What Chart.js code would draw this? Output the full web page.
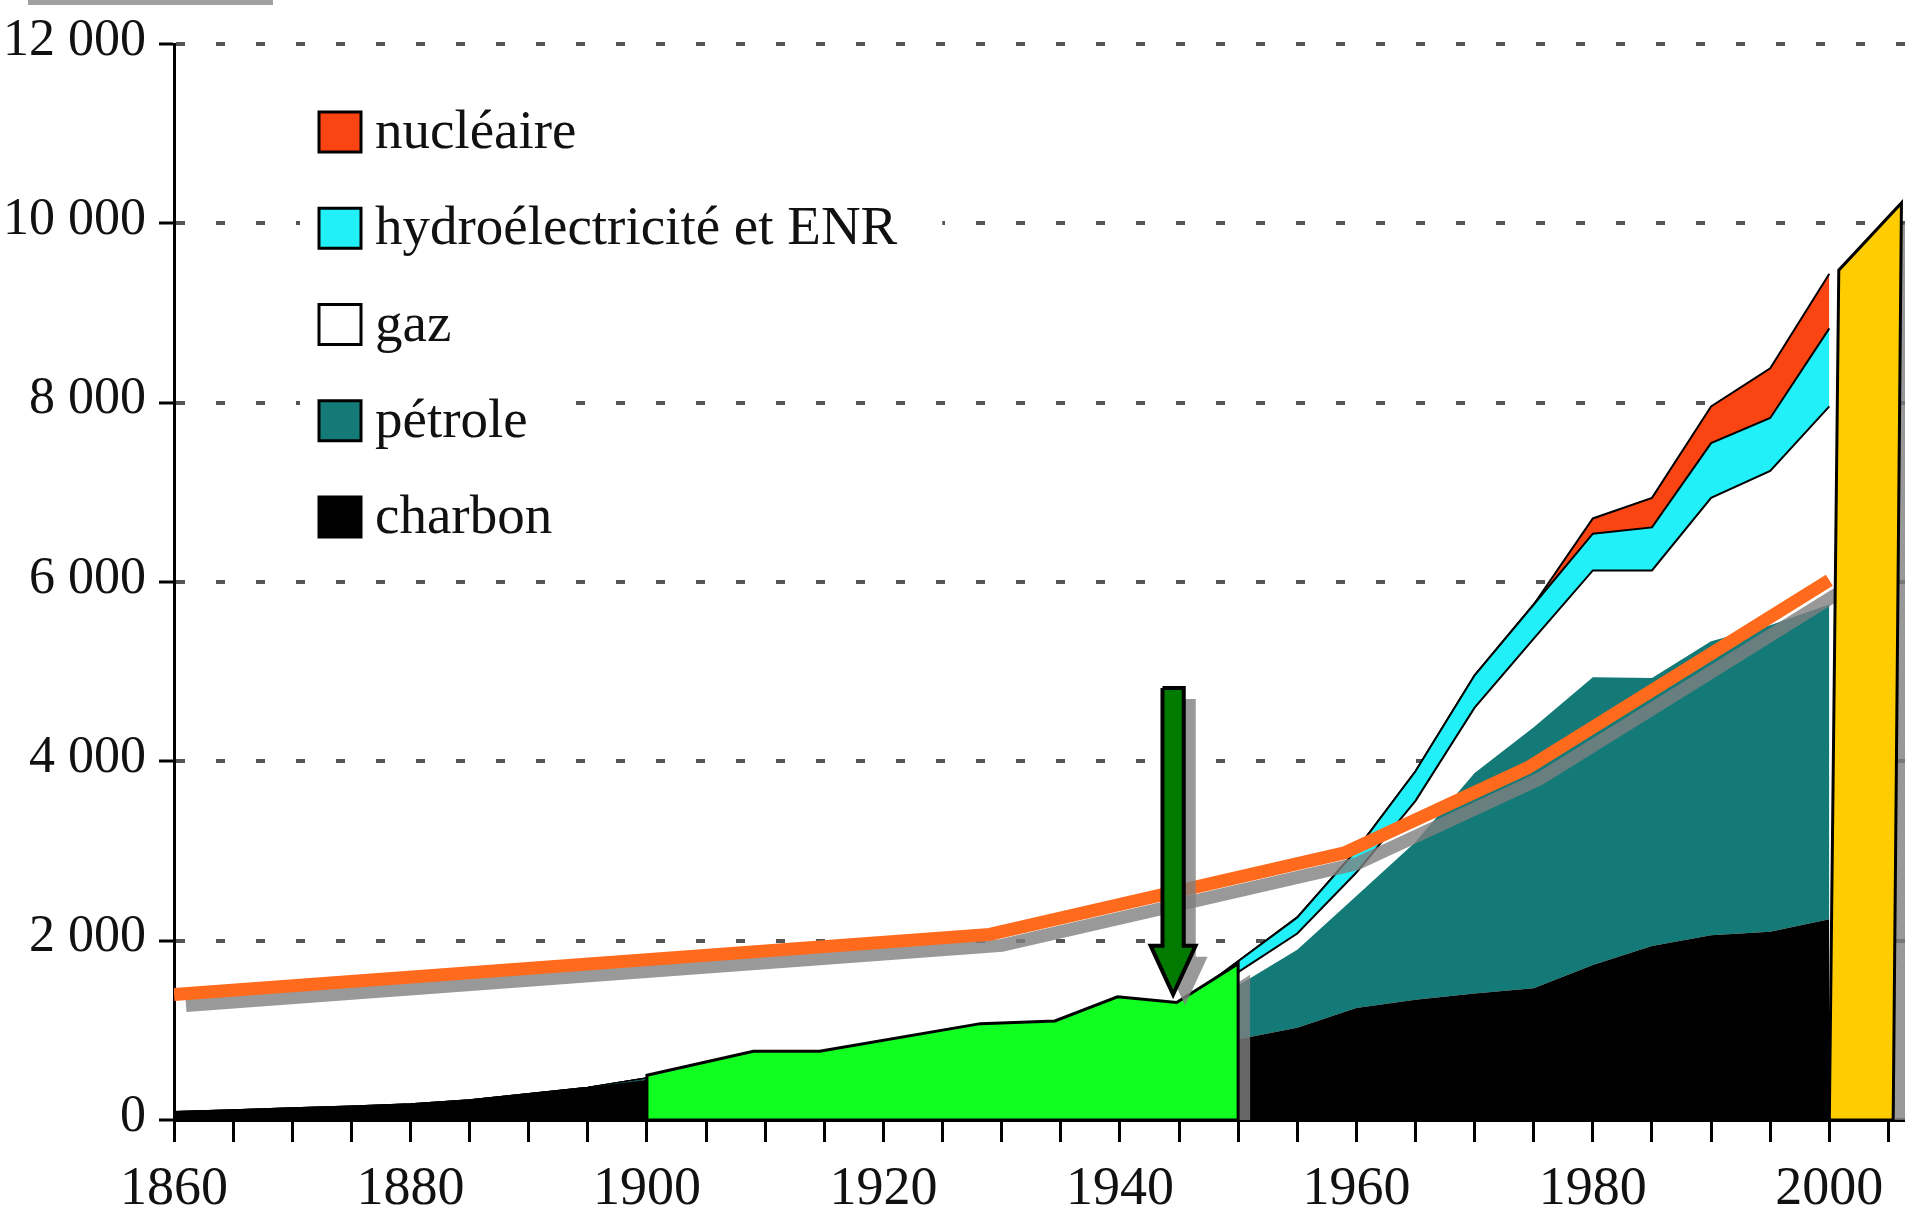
<!DOCTYPE html>
<html lang="fr">
<head>
<meta charset="utf-8">
<title>Consommation mondiale d'énergie primaire</title>
<script src="https://cdn.jsdelivr.net/npm/chart.js@4.4.1/dist/chart.umd.min.js"></script>
<style>
  html, body { margin: 0; padding: 0; background: #fff; }
  #wrap { position: relative; width: 1905px; height: 1222px; overflow: hidden; }
  #scanbar { position: absolute; left: 28px; top: 0; width: 245px; height: 5px; background: #a0a0a0; }
</style>
</head>
<body>
<div id="wrap">
  <canvas id="energyChart" width="1905" height="1222"></canvas>
  <div id="scanbar"></div>
</div>
<script>
// ---------------- data ----------------
var years = [1860, 1865, 1870, 1875, 1880, 1885, 1890, 1895, 1900, 1905, 1910, 1915, 1920, 1925,
             1930, 1935, 1940, 1945, 1950, 1955, 1960, 1965, 1970, 1975, 1980, 1985, 1990, 1995, 2000];

var charbon   = [90, 110, 130, 150, 175, 220, 290, 360, 450, 560, 650, 660, 720, 760,
                 780, 790, 900, 820, 900, 1030, 1250, 1340, 1410, 1470, 1730, 1940, 2060, 2100, 2240];
var petrole   = [0, 0, 0, 0, 0, 0, 0, 0, 10, 30, 45, 60, 95, 140,
                 180, 200, 280, 300, 600, 870, 1250, 1760, 2460, 2910, 3210, 2990, 3280, 3420, 3510];
var gaz       = [0, 0, 0, 0, 0, 0, 0, 0, 5, 15, 20, 25, 30, 40,
                 50, 60, 80, 90, 150, 180, 260, 460, 730, 990, 1190, 1200, 1600, 1720, 2210];
var hydro     = [0, 0, 0, 0, 0, 0, 0, 0, 0, 8, 10, 15, 20, 25,
                 35, 45, 60, 70, 120, 180, 250, 330, 360, 380, 410, 480, 610, 590, 870];
var nucleaire = [0, 0, 0, 0, 0, 0, 0, 0, 0, 0, 0, 0, 0, 0,
                 0, 0, 0, 0, 0, 0, 0, 0, 0, 0, 170, 330, 410, 555, 610];

var seriesNames  = ['charbon', 'pétrole', 'gaz', 'hydroélectricité et ENR', 'nucléaire'];
var seriesColors = ['#000000', '#137a78', '#ffffff', '#22f0f8', '#fa4512'];

// orange line (population curve drawn over the chart)
var popYears   = [1860, 1929, 1959, 1974.5, 2000];
var population = [1400, 2070, 2980, 3930, 6020];

// green highlight 1900-1950
var greenX = [1900, 1900, 1909, 1914.6, 1928.2, 1934.5, 1939.8, 1944.8, 1950, 1950, 1900];
var greenY = [0, 500, 767, 767, 1075, 1105, 1375, 1311, 1744, 0, 0];

// yellow highlight at 2000
var yellowX = [2000, 2000.8, 2006.1, 2005.4, 2000];
var yellowY = [0, 9480, 10230, 0, 0];

// green arrow pointing to 1945
var arrowX = [1943.6, 1945.4, 1945.4, 1946.4, 1944.5, 1942.6, 1943.6, 1943.6];
var arrowY = [4820, 4820, 1945, 1945, 1400, 1945, 1945, 4820];

var yTicks = [0, 2000, 4000, 6000, 8000, 10000, 12000];
var xLabelEvery = 20;

// ---------------- helpers ----------------
function serie(values) {
    return years.map(function (y, i) { return {x: y, y: values[i]}; });
}
function pts(xs, ys) {
    return xs.map(function (x, i) { return {x: x, y: ys[i]}; });
}
function fmt(v) {
    return String(v).replace(/\B(?=(\d{3})+(?!\d))/g, ' ');
}

Chart.defaults.font.family = "'Liberation Serif', 'DejaVu Serif', serif";
Chart.defaults.color = '#111';

// shadow: switched on before the filler paints, off again before the stroke
var shadowOn = {
    id: 'shadowOn',
    beforeDatasetDraw: function (chart, args) {
        var ds = chart.data.datasets[args.index];
        if (!ds.shadow) return;
        var c = chart.ctx;
        c.save();
        c.shadowColor = 'rgba(127,127,127,0.8)';
        c.shadowOffsetX = 12;
        c.shadowOffsetY = 11;
        c.shadowBlur = 0;
    }
};
var shadowOff = {
    id: 'shadowOff',
    beforeDatasetDraw: function (chart, args) {
        if (chart.data.datasets[args.index].shadow === 'fill') chart.ctx.restore();
    },
    afterDatasetDraw: function (chart, args) {
        if (chart.data.datasets[args.index].shadow === 'line') chart.ctx.restore();
    }
};
var filler = Chart.registry.getPlugin('filler');
Chart.unregister(filler);
Chart.register(shadowOn, filler);

// legend in the upper left of the plot
var legendBox = {
    id: 'legendBox',
    beforeDatasetsDraw: function (chart) {
        var c = chart.ctx;
        var order = [4, 3, 2, 1, 0];
        c.save();
        c.font = "55px 'Liberation Serif'";
        c.textBaseline = 'alphabetic';
        order.forEach(function (k, row) {
            var top = 112 + row * 96.25;
            var w = c.measureText(seriesNames[k]).width;
            c.fillStyle = '#fff';
            c.fillRect(300, top - 28, 75 + w + 45, 96);
            c.fillStyle = seriesColors[k];
            c.fillRect(319, top, 42, 40);
            c.lineWidth = 3;
            c.strokeStyle = '#000';
            c.strokeRect(319, top, 42, 40);
            c.fillStyle = '#111';
            c.fillText(seriesNames[k], 375, top + 36);
        });
        c.restore();
    }
};

var energyChart = new Chart(document.getElementById('energyChart'), {
    type: 'line',
    data: {
        datasets: [
            {label: seriesNames[0], data: serie(charbon), backgroundColor: seriesColors[0],
             borderWidth: 0, fill: 'origin', stack: 'energie', order: 10},
            {label: seriesNames[1], data: serie(petrole), backgroundColor: seriesColors[1],
             borderWidth: 0, fill: '-1', stack: 'energie', order: 11},
            {label: seriesNames[2], data: serie(gaz), backgroundColor: seriesColors[2],
             borderColor: '#000', borderWidth: 2, fill: '-1', stack: 'energie', order: 12},
            {label: seriesNames[3], data: serie(hydro), backgroundColor: seriesColors[3],
             borderColor: '#000', borderWidth: 2, fill: '-1', stack: 'energie', order: 13},
            {label: seriesNames[4], data: serie(nucleaire), backgroundColor: seriesColors[4],
             borderColor: '#000', borderWidth: 2, fill: '-1', stack: 'energie', order: 14},
            {label: '1900-1950', data: pts(greenX, greenY), backgroundColor: '#10ff20',
             borderColor: '#000', borderWidth: 3, fill: 'shape', stack: 'vert', order: 3, shadow: 'fill'},
            {label: 'population', data: pts(popYears, population), borderColor: '#ff6a1c',
             borderWidth: 13, fill: false, stack: 'pop', order: 2, shadow: 'line'},
            {label: '2000', data: pts(yellowX, yellowY), backgroundColor: '#ffcc00',
             borderColor: '#000', borderWidth: 3, fill: 'shape', stack: 'jaune', order: 1, shadow: 'fill'},
            {label: 'flèche', data: pts(arrowX, arrowY), backgroundColor: '#007a00',
             borderColor: '#000', borderWidth: 4, borderJoinStyle: 'miter', fill: 'shape',
             stack: 'fleche', order: 0, shadow: 'fill'}
        ]
    },
    options: {
        responsive: false,
        animation: false,
        devicePixelRatio: 1,
        events: [],
        layout: {padding: {top: 40, left: 0, right: 0, bottom: 0}},
        elements: {
            point: {radius: 0, hoverRadius: 0},
            line: {tension: 0, borderCapStyle: 'butt'}
        },
        plugins: {
            legend: {display: false},
            tooltip: {enabled: false}
        },
        scales: {
            x: {
                type: 'linear',
                min: 1860,
                max: 2006.4,
                afterFit: function (s) { s.height = 102; },
                border: {display: true, color: '#000', width: 3},
                grid: {drawOnChartArea: false, drawTicks: true, tickLength: 22, tickWidth: 3, tickColor: '#000'},
                ticks: {
                    stepSize: 5, autoSkip: false, maxRotation: 0, includeBounds: false,
                    padding: 15, font: {size: 54}, color: '#111',
                    callback: function (v) { return v % xLabelEvery === 0 ? String(v) : ''; }
                }
            },
            y: {
                stacked: true,
                min: yTicks[0],
                max: yTicks[yTicks.length - 1],
                afterFit: function (s) { s.width = 174; },
                border: {display: true, color: '#000', width: 3, dash: [9, 31]},
                grid: {color: '#555', lineWidth: 4, tickLength: 15, tickWidth: 3, tickColor: '#000', tickBorderDash: []},
                ticks: {
                    stepSize: yTicks[1] - yTicks[0], padding: 13, labelOffset: -3,
                    font: {size: 52}, color: '#111',
                    callback: function (v) { return fmt(v); }
                }
            }
        }
    },
    plugins: [shadowOff, legendBox]
});
</script>
</body>
</html>
